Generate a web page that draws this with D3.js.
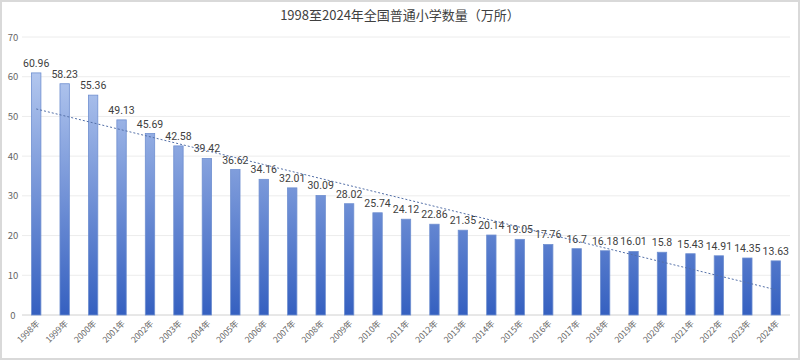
<!DOCTYPE html>
<html><head><meta charset="utf-8">
<script src="https://cdn.jsdelivr.net/npm/d3@7"></script>
<style>
html,body{margin:0;padding:0;background:#fff;}
svg{display:block;font-family:"Noto Sans CJK SC","Noto Sans",sans-serif;}
</style></head>
<body><svg id="c" width="800" height="360"></svg>
<script>
const title = "1998至2024年全国普通小学数量（万所）";
const years = ["1998年","1999年","2000年","2001年","2002年","2003年","2004年","2005年","2006年","2007年","2008年","2009年","2010年","2011年","2012年","2013年","2014年","2015年","2016年","2017年","2018年","2019年","2020年","2021年","2022年","2023年","2024年"];
const values = [60.96,58.23,55.36,49.13,45.69,42.58,39.42,36.62,34.16,32.01,30.09,28.02,25.74,24.12,22.86,21.35,20.14,19.05,17.76,16.7,16.18,16.01,15.8,15.43,14.91,14.35,13.63];
const yTicks = [0,10,20,30,40,50,60,70];

(function(){
const svg = d3.select("#c");
const W = 800, H = 360;
const pL = 22, pR = 790, pT = 37, pB = 315;

svg.append("rect").attr("x",1).attr("y",1).attr("width",W-2).attr("height",H-2)
  .attr("fill","#fff").attr("stroke","#d9d9d9").attr("stroke-width",2);

const x = d3.scaleBand().domain(years).range([pL,pR]).paddingInner(0.67).paddingOuter(0.335);
const y = d3.scaleLinear().domain([0,70]).range([pB,pT]);

const defs = svg.append("defs");
const g = defs.append("linearGradient").attr("id","bg")
  .attr("gradientUnits","userSpaceOnUse").attr("x1",0).attr("y1",y(62)).attr("x2",0).attr("y2",y(0));
g.append("stop").attr("offset","0%").attr("stop-color","#b4c8ef");
g.append("stop").attr("offset","100%").attr("stop-color","#3560c0");

svg.append("g").selectAll("line").data(yTicks).join("line")
  .attr("x1",pL).attr("x2",pR).attr("y1",d=>y(d)).attr("y2",d=>y(d))
  .attr("stroke",d=>d===0?"#d0d0d0":"#ececec").attr("stroke-width",1);

svg.append("g").selectAll("text").data(yTicks).join("text")
  .attr("x",13).attr("y",d=>y(d)+3.5).attr("text-anchor","middle")
  .attr("font-size",9.5).attr("fill","#666").text(d=>d);

svg.append("g").selectAll("rect").data(values).join("rect")
  .attr("x",(d,i)=>x(years[i])).attr("width",x.bandwidth())
  .attr("y",d=>y(d)).attr("height",d=>y(0)-y(d))
  .attr("fill","url(#bg)").attr("stroke","#6f8fd0").attr("stroke-width",0.8);

svg.append("g").selectAll("text").data(values).join("text")
  .attr("x",(d,i)=>x(years[i])+x.bandwidth()/2).attr("y",d=>y(d)-6)
  .attr("text-anchor","middle").attr("font-size",10.5).attr("fill","#404040")
  .attr("font-family","Roboto, 'Noto Sans', sans-serif")
  .text(d=>d);

const n = values.length;
const xs = d3.range(n);
const mx = d3.mean(xs), my = d3.mean(values);
const slope = d3.sum(xs,i=>(i-mx)*(values[i]-my))/d3.sum(xs,i=>(i-mx)*(i-mx));
const icpt = my - slope*mx;
svg.append("line")
  .attr("x1",x(years[0])+x.bandwidth()/2).attr("y1",y(icpt))
  .attr("x2",x(years[n-1])+x.bandwidth()/2).attr("y2",y(icpt+slope*(n-1)))
  .attr("stroke","#5470a8").attr("stroke-width",1).attr("stroke-dasharray","2,2");

svg.append("g").selectAll("text").data(years).join("text")
  .attr("transform",d=>`translate(${x(d)+x.bandwidth()/2+4},${pB+9}) rotate(-45)`)
  .attr("text-anchor","end").attr("font-size",8.5).attr("fill","#666").text(d=>d);

svg.append("text").attr("x",400).attr("y",20).attr("text-anchor","middle")
  .attr("font-size",13).attr("fill","#404040").text(title);
})();
</script></body></html>
